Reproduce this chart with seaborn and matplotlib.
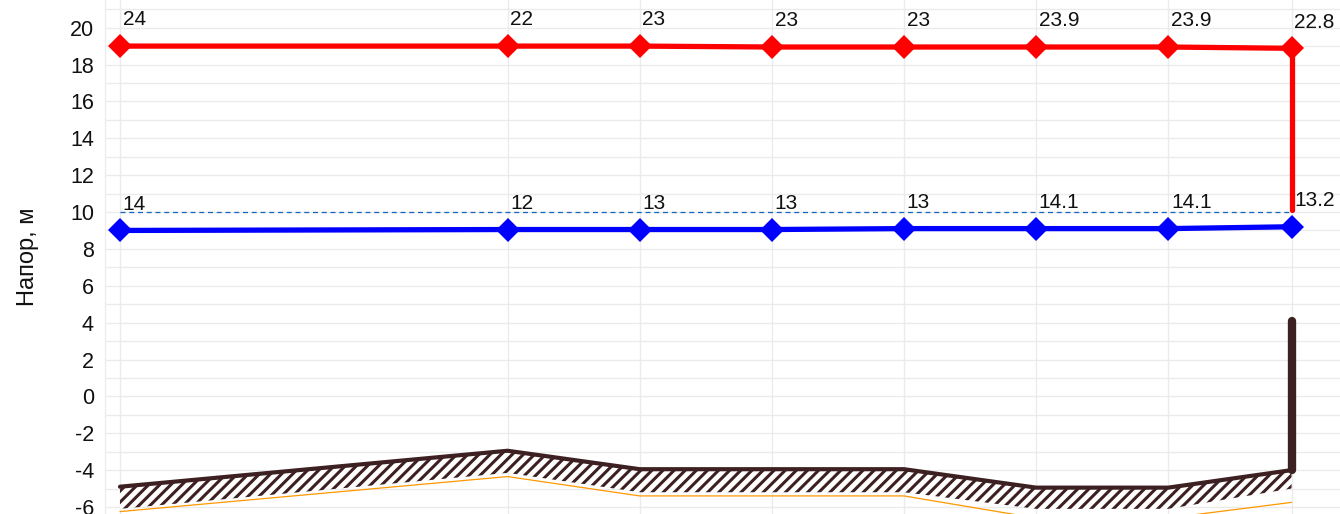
import numpy as np
import pandas as pd
import matplotlib.pyplot as plt
import seaborn as sns

# distances along the line (m)
dist = [0, 88, 118, 148, 178, 208, 238, 266]
red_head = [19.0, 19.0, 19.0, 18.95, 18.95, 18.95, 18.95, 18.88]
red_labels = ["24", "22", "23", "23", "23", "23.9", "23.9", "22.8"]
blue_head = [9.0, 9.05, 9.05, 9.05, 9.1, 9.1, 9.1, 9.2]
blue_labels = ["14", "12", "13", "13", "13", "14.1", "14.1", "13.2"]
ground = [-4.9, -2.95, -3.95, -3.95, -3.95, -4.95, -4.95, -4.0]
ground_bottom = [-6.1, -4.15, -5.2, -5.2, -5.2, -6.1, -6.1, -5.0]
pipe = [-6.25, -4.35, -5.4, -5.4, -5.4, -6.6, -6.6, -5.75]
ref_level = 10
red_drop_end = 10.1
well_top = 4.1

df = pd.DataFrame({"dist": dist, "red": red_head, "blue": blue_head,
                   "ground": ground, "bottom": ground_bottom, "pipe": pipe})

sns.set_style("whitegrid")
plt.rcParams["font.family"] = ["Liberation Sans", "DejaVu Sans"]
plt.rcParams["axes.unicode_minus"] = False
plt.rcParams["hatch.linewidth"] = 2.2
plt.rcParams["hatch.color"] = "#3d2022"

fig = plt.figure(figsize=(13.4, 5.14), dpi=100)
ax = fig.add_axes([105 / 1340, 0, 1 - 105 / 1340, 1])

brown = "#3d2022"
# ground band
ax.fill_between(df["dist"], df["bottom"], df["ground"], facecolor="white",
                edgecolor=brown, hatch="///", linewidth=0)
sns.lineplot(data=df, x="dist", y="pipe", ax=ax, color="#ff9800", lw=0.9)
sns.lineplot(data=df, x="dist", y="ground", ax=ax, color=brown, lw=3)
ax.plot([dist[-1], dist[-1]], [ground[-1], well_top], color=brown, lw=6,
        solid_capstyle="round")

# reference dashed level
ax.plot([dist[0], dist[-1]], [ref_level, ref_level], color="#1565c0",
        lw=0.9, ls=(0, (4, 3)))

# head lines
ax.plot([dist[-1], dist[-1]], [red_head[-1], red_drop_end], color="#ff0000",
        lw=3.8, solid_capstyle="round")
sns.lineplot(data=df, x="dist", y="red", ax=ax, color="#ff0000", lw=3.8,
             marker="D", markersize=12, markeredgewidth=0)
sns.lineplot(data=df, x="dist", y="blue", ax=ax, color="#0000ff", lw=3.8,
             marker="D", markersize=12, markeredgewidth=0)

for x, y, t in zip(dist, red_head, red_labels):
    ax.annotate(t, (x, y), xytext=(2, 12), textcoords="offset points",
                ha="left", va="bottom", fontsize=15, color="#111111")
for x, y, t in zip(dist, blue_head, blue_labels):
    ax.annotate(t, (x, y), xytext=(2, 12), textcoords="offset points",
                ha="left", va="bottom", fontsize=15, color="#111111")

ax.set_xlim(-3.4, 277)
ax.set_ylim(-6.38, 21.5)
ax.set_xticks(dist)
ax.set_xticklabels([])
ax.set_yticks(range(-6, 21, 2))
ax.set_yticks(range(-6, 22, 1), minor=True)
ax.tick_params(axis="y", labelsize=15.5, colors="#111111", pad=8, length=0)
ax.grid(True, which="both", axis="y", color="#ebebeb", lw=1)
ax.grid(True, which="major", axis="x", color="#ebebeb", lw=1)
ax.set_xlabel("")
ax.set_ylabel("Напор, м", fontsize=17, color="#111111", labelpad=22)
for s in ["top", "right", "bottom"]:
    ax.spines[s].set_visible(False)
ax.spines["left"].set_color("#ebebeb")

fig.savefig("out.png", dpi=100)
